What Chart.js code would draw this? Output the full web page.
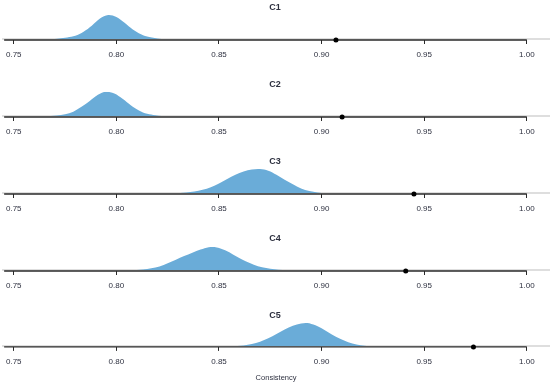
<!DOCTYPE html>
<html>
<head>
<meta charset="utf-8">
<script src="https://cdn.jsdelivr.net/npm/chart.js@4"></script>
<style>
  html, body { margin: 0; padding: 0; background: #fff; }
  .panel { width: 550px; height: 77px; }
</style>
</head>
<body>
<div id="wrap"></div>
<script>
// Panel titles
const names = ['C1', 'C2', 'C3', 'C4', 'C5'];

// Observed consistency (black dot)
const observed = [0.907, 0.910, 0.945, 0.941, 0.974];

// Density curves (x = consistency, y = relative height)
const c1X = [0.770, 0.772, 0.776, 0.780, 0.784, 0.788, 0.792, 0.796, 0.800, 0.804, 0.808, 0.812, 0.816, 0.820, 0.822];
const c1Y = [0, 0.02, 0.06, 0.13, 0.30, 0.55, 0.85, 1.00, 0.92, 0.68, 0.40, 0.20, 0.08, 0.02, 0];

const c2X = [0.768, 0.771, 0.775, 0.779, 0.783, 0.787, 0.791, 0.795, 0.799, 0.803, 0.807, 0.811, 0.815, 0.819, 0.822];
const c2Y = [0, 0.02, 0.07, 0.18, 0.38, 0.62, 0.88, 1.02, 0.94, 0.72, 0.45, 0.23, 0.09, 0.03, 0];

const c3X = [0.831, 0.834, 0.838, 0.842, 0.846, 0.850, 0.854, 0.858, 0.862, 0.866, 0.870, 0.874, 0.878, 0.882, 0.886, 0.890, 0.894, 0.898, 0.900];
const c3Y = [0, 0.02, 0.06, 0.13, 0.24, 0.40, 0.58, 0.76, 0.90, 0.98, 1.00, 0.93, 0.76, 0.55, 0.36, 0.19, 0.08, 0.02, 0];

const c4X = [0.810, 0.813, 0.817, 0.821, 0.825, 0.829, 0.833, 0.837, 0.841, 0.845, 0.849, 0.853, 0.857, 0.861, 0.865, 0.869, 0.873, 0.877, 0.881];
const c4Y = [0, 0.02, 0.07, 0.15, 0.28, 0.43, 0.58, 0.72, 0.85, 0.95, 0.94, 0.82, 0.64, 0.45, 0.29, 0.16, 0.08, 0.03, 0];

const c5X = [0.859, 0.862, 0.866, 0.870, 0.874, 0.878, 0.882, 0.886, 0.890, 0.893, 0.897, 0.901, 0.905, 0.909, 0.913, 0.917, 0.921, 0.923];
const c5Y = [0, 0.02, 0.08, 0.18, 0.33, 0.52, 0.72, 0.88, 0.98, 1.00, 0.90, 0.72, 0.50, 0.31, 0.16, 0.06, 0.01, 0];

const curvesX = [c1X, c2X, c3X, c4X, c5X];
const curvesY = [c1Y, c2Y, c3Y, c4Y, c5Y];

// Axis
const xTicks = [0.75, 0.80, 0.85, 0.90, 0.95, 1.00];
const xMin = 0.7443, xMax = 1.0113;
const axisStart = 0.7453, axisEnd = 1.0;
const axisLevel = -0.042;

const blue = '#6aacd8';
const textColor = '#2e3140';

const wrap = document.getElementById('wrap');

names.forEach((name, i) => {
    const div = document.createElement('div');
    div.className = 'panel';
    const canvas = document.createElement('canvas');
    canvas.width = 550;
    canvas.height = 77;
    div.appendChild(canvas);
    wrap.appendChild(div);

    const last = i === names.length - 1;
    const density = curvesX[i].map((x, j) => ({ x: x, y: curvesY[i][j] }));

    new Chart(canvas.getContext('2d'), {
        type: 'line',
        data: {
            datasets: [
                {
                    // dot
                    type: 'scatter',
                    data: [{ x: observed[i], y: axisLevel }],
                    pointRadius: 2.5,
                    pointBackgroundColor: '#000',
                    pointBorderWidth: 0,
                    clip: false,
                    order: 0
                },
                {
                    // density
                    data: density,
                    borderWidth: 0,
                    pointRadius: 0,
                    backgroundColor: blue,
                    fill: { value: 0 },
                    tension: 0.35,
                    clip: false,
                    order: 1
                },
                {
                    // axis line
                    data: [{ x: axisStart, y: axisLevel }, { x: axisEnd, y: axisLevel }],
                    borderColor: '#2a2a2a',
                    borderWidth: 1.3,
                    pointRadius: 0,
                    clip: false,
                    order: 2
                },
                {
                    // light baseline
                    data: [{ x: xMin, y: 0 }, { x: xMax, y: 0 }],
                    borderColor: '#dedede',
                    borderWidth: 2,
                    pointRadius: 0,
                    clip: false,
                    order: 3
                }
            ]
        },
        options: {
            responsive: false,
            animation: false,
            devicePixelRatio: 1,
            layout: {
                autoPadding: false,
                padding: { left: 0, right: 0, top: 0, bottom: last ? 0.5 : 11.4 }
            },
            plugins: {
                legend: { display: false },
                tooltip: { enabled: false },
                title: {
                    display: true,
                    text: name,
                    color: textColor,
                    font: { family: 'Liberation Sans', size: 9, weight: 'bold' },
                    padding: { top: 2, bottom: 2 }
                }
            },
            scales: {
                x: {
                    type: 'linear',
                    min: xMin,
                    max: xMax,
                    afterBuildTicks: axis => { axis.ticks = xTicks.map(v => ({ value: v })); },
                    border: { display: false },
                    grid: { drawOnChartArea: false, drawTicks: true, tickLength: 4, color: '#2a2a2a', lineWidth: 1 },
                    ticks: {
                        color: textColor,
                        padding: 6,
                        maxRotation: 0,
                        autoSkip: false,
                        font: { family: 'Liberation Sans', size: 8 },
                        callback: v => Number(v).toFixed(2)
                    },
                    title: {
                        display: last,
                        text: 'Consistency',
                        color: textColor,
                        font: { family: 'Liberation Sans', size: 7.5 },
                        padding: { top: 1, bottom: 2 }
                    }
                },
                y: {
                    display: false,
                    min: axisLevel,
                    max: 1.008
                }
            }
        }
    });
});
</script>
</body>
</html>
